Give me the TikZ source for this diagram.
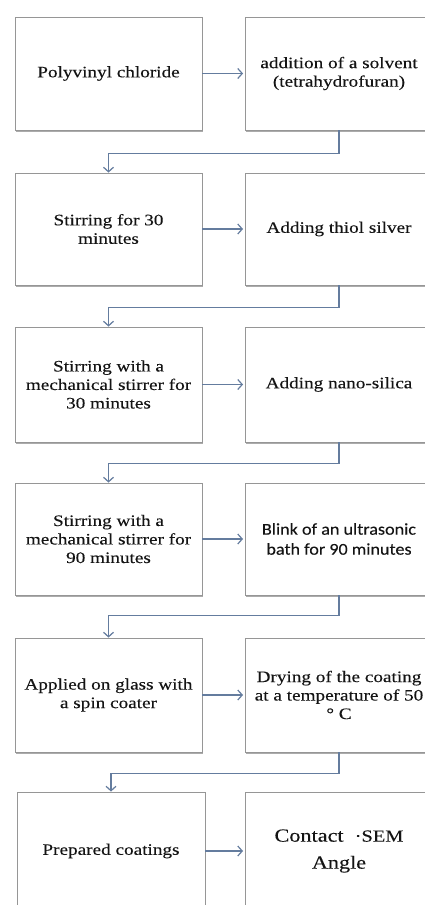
\documentclass[tikz,border=0pt]{standalone}
\usepackage{fontspec}
\setmainfont{Liberation Serif}[FakeStretch=1.2,FakeBold=0.15]
\newfontfamily\calib{Carlito}[FakeStretch=1.1,FakeBold=0.1]
\usetikzlibrary{arrows.meta,shadows}
\definecolor{connc}{RGB}{100,124,158}
\definecolor{bord}{RGB}{150,150,150}
\definecolor{txt}{RGB}{20,20,20}
\tikzset{
  box/.style={draw=bord, line width=0.9pt, fill=white, rectangle,
    minimum width=187pt, align=center, text=txt, inner sep=0pt,
    font=\fontsize{16}{18.5}\selectfont,
    drop shadow={shadow xshift=0.6pt, shadow yshift=-1.6pt, fill=black!55, opacity=0.6}},
  conn/.style={draw=connc, line width=1.2pt, -{Straight Barb[length=4.5pt,width=10pt]}},
}
\begin{document}
\begin{tikzpicture}[x=1pt,y=-1pt]
\clip (0,0) rectangle (425,905);
\fill[white] (0,0) rectangle (425,905);
% row 1
\node[box, minimum height=113pt] (L1) at (108.5,73.5) {Polyvinyl chloride};
\node[box, minimum height=113pt, minimum width=188pt] (R1) at (339,73.5) {addition of a solvent\\(tetrahydrofuran)};
% row 2
\node[box, minimum height=112pt] (L2) at (108.5,229) {Stirring for 30\\minutes};
\node[box, minimum height=112pt, minimum width=188pt] (R2) at (339,229) {Adding thiol silver};
% row 3
\node[box, minimum height=115pt] (L3) at (108.5,384.5) {Stirring with a\\mechanical stirrer for\\30 minutes};
\node[box, minimum height=115pt, minimum width=188pt] (R3) at (339,384.5) {Adding nano-silica};
% row 4
\node[box, minimum height=112pt] (L4) at (108.5,539) {Stirring with a\\mechanical stirrer for\\90 minutes};
\node[box, minimum height=112pt, minimum width=188pt, font=\calib\fontsize{16.5}{20}\selectfont] (R4) at (339,539) {Blink of an ultrasonic\\bath for 90 minutes};
% row 5
\node[box, minimum height=114pt] (L5) at (108.5,695) {Applied on glass with\\a spin coater};
\node[box, minimum height=114pt, minimum width=188pt] (R5) at (339,695) {Drying of the coating\\at a temperature of 50\\° C};
% row 6
\node[box, minimum height=118pt, minimum width=188pt] (L6) at (111,851) {Prepared coatings};
\node[box, minimum height=118pt, minimum width=188pt, font=\fontsize{18.5}{27}\selectfont] (R6) at (339,851) {Contact\ \ {\fontsize{17}{17}\selectfont·SEM}\\Angle};
% horizontal arrows
\draw[conn, shorten >=1.5pt] (L1.east) -- (R1.west);
\draw[conn, shorten >=1.5pt] (L2.east) -- (R2.west);
\draw[conn, shorten >=1.5pt] (L3.east) -- (R3.west);
\draw[conn, shorten >=1.5pt] (L4.east) -- (R4.west);
\draw[conn, shorten >=1.5pt] (L5.east) -- (R5.west);
\draw[conn, shorten >=1.5pt] (L6.east) -- (R6.west);
% elbow connectors
\draw[conn] (R1.south) -- ++(0,23) -| (L2.north);
\draw[conn] (R2.south) -- ++(0,22) -| (L3.north);
\draw[conn] (R3.south) -- ++(0,21) -| (L4.north);
\draw[conn] (R4.south) -- ++(0,20) -| (L5.north);
\draw[conn] (R5.south) -- ++(0,21) -| (L6.north);
\end{tikzpicture}
\end{document}
